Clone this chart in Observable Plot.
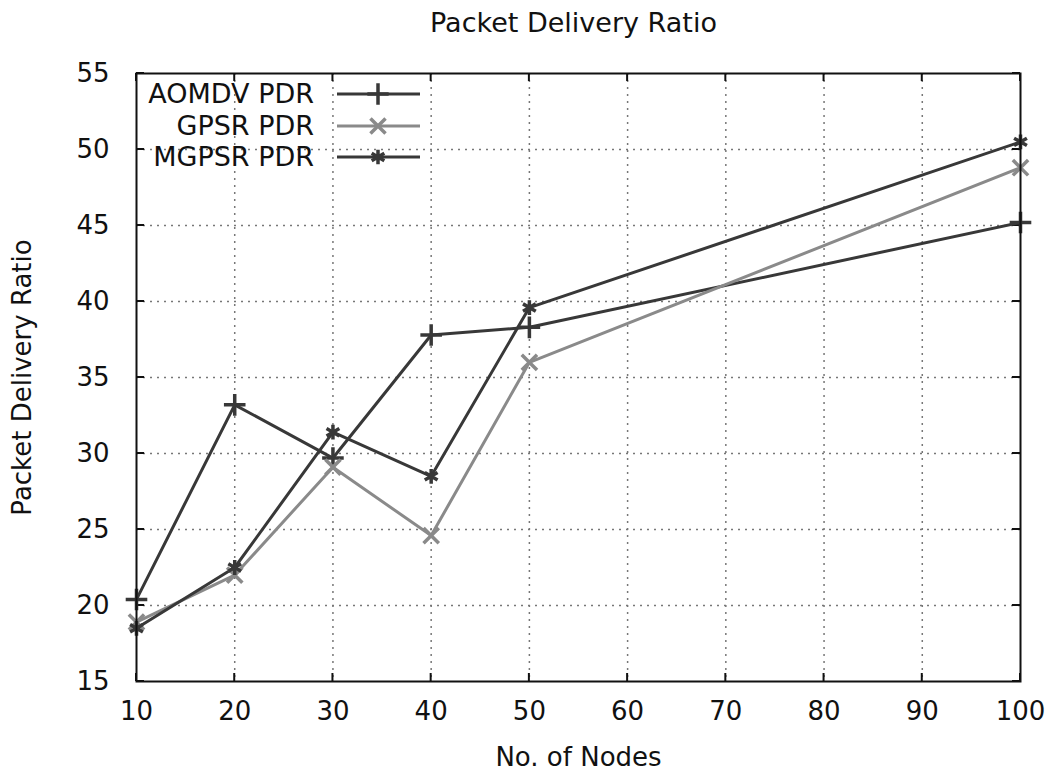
<!DOCTYPE html>
<html>
<head>
<meta charset="utf-8">
<script src="https://cdn.jsdelivr.net/npm/d3@7"></script>
<script src="https://cdn.jsdelivr.net/npm/@observablehq/plot@0.6"></script>
<style>
  html, body { margin: 0; padding: 0; background: #fff; }
  body { width: 1047px; height: 770px; position: relative; overflow: hidden; font-family: "DejaVu Sans", sans-serif; }
  #title { height: 45px; line-height: 45px; text-align: center; font-size: 27px; color: #111; padding-left: 100px; box-sizing: border-box; }
  #legend { position: absolute; left: 0; top: 0; }
  .row { position: absolute; height: 30px; }
  .row span { position: absolute; right: 0; font-size: 27px; color: #111; line-height: 30px; white-space: nowrap; }
</style>
</head>
<body>
<div id="title">Packet Delivery Ratio</div>
<div id="chart"></div>
<div id="legend"></div>
<script>
const nodes = [10, 20, 30, 40, 50, 100];
const aomdv = [20.4, 33.2, 29.7, 37.8, 38.3, 45.2];
const gpsr  = [18.9, 22.0, 29.1, 24.6, 36.0, 48.8];
const mgpsr = [18.5, 22.5, 31.4, 28.5, 39.6, 50.5];
const seriesNames = ["AOMDV PDR", "GPSR PDR", "MGPSR PDR"];
const seriesColors = ["#383838", "#8a8a8a", "#383838"];
const seriesSymbols = ["plus", "times", "asterisk"];
const xTicks = [10, 20, 30, 40, 50, 60, 70, 80, 90, 100];
const yTicks = [15, 20, 25, 30, 35, 40, 45, 50, 55];

const values = [aomdv, gpsr, mgpsr];
const data = [];
values.forEach((vals, i) => vals.forEach((v, j) => data.push({series: seriesNames[i], x: nodes[j], y: v})));

const colorScale = {domain: seriesNames, range: seriesColors};
const symbolScale = {domain: seriesNames, range: seriesSymbols};

// gnuplot-style inward ticks on all four sides, placed through the scales
function inwardTicks(index, scales, values, dims) {
  const g = d3.create("svg:g").attr("stroke", "#111").attr("stroke-width", 2);
  const L = 8;
  const top = dims.marginTop, bottom = dims.height - dims.marginBottom;
  const left = dims.marginLeft, right = dims.width - dims.marginRight;
  for (const t of xTicks) {
    const x = scales.x(t);
    g.append("line").attr("x1", x).attr("x2", x).attr("y1", bottom).attr("y2", bottom - L);
    g.append("line").attr("x1", x).attr("x2", x).attr("y1", top).attr("y2", top + L);
  }
  for (const t of yTicks) {
    const y = scales.y(t);
    g.append("line").attr("y1", y).attr("y2", y).attr("x1", left).attr("x2", left + L);
    g.append("line").attr("y1", y).attr("y2", y).attr("x1", right).attr("x2", right - L);
  }
  return g.node();
}

const plot = Plot.plot({
  width: 1047,
  height: 725,
  marginTop: 28,
  marginBottom: 89,
  marginLeft: 136,
  marginRight: 27,
  style: {fontFamily: "DejaVu Sans, sans-serif", fontSize: "26px", color: "#111", background: "white"},
  x: {domain: [10, 100]},
  y: {domain: [15, 55]},
  color: colorScale,
  symbol: symbolScale,
  marks: [
    Plot.gridX(xTicks.slice(1, -1), {stroke: "#777", strokeOpacity: 1, strokeWidth: 1.5, strokeDasharray: "2,5"}),
    Plot.gridY(yTicks.slice(1, -1), {stroke: "#777", strokeOpacity: 1, strokeWidth: 1.5, strokeDasharray: "2,5"}),
    Plot.axisX(xTicks, {anchor: "bottom", tickSize: 0, tickPadding: 20, label: "No. of Nodes", labelAnchor: "center", labelOffset: 84, labelArrow: "none"}),
    Plot.axisY(yTicks, {anchor: "left", tickSize: 0, tickPadding: 27, label: "Packet Delivery Ratio", labelAnchor: "center", labelOffset: 124, labelArrow: "none"}),
    inwardTicks,
    Plot.line(data, {x: "x", y: "y", z: "series", stroke: "series", strokeWidth: 3}),
    Plot.dot(data, {x: "x", y: "y", symbol: "series", stroke: "series", r: 7, strokeWidth: 3.5}),
    Plot.frame({stroke: "#111", strokeWidth: 2})
  ]
});
document.getElementById("chart").appendChild(plot);

// legend (gnuplot-style key inside the plot, top-left)
const legend = document.getElementById("legend");
const rowTops = [79, 111, 142];
seriesNames.forEach((name, i) => {
  const row = document.createElement("div");
  row.className = "row";
  row.style.left = "0px";
  row.style.width = "314px";
  row.style.top = rowTops[i] + "px";
  const span = document.createElement("span");
  span.textContent = name;
  row.appendChild(span);
  legend.appendChild(row);

  const svg = d3.create("svg").attr("width", 90).attr("height", 30)
    .style("position", "absolute").style("left", "334px").style("top", rowTops[i] + "px");
  svg.append("line").attr("x1", 3).attr("x2", 86).attr("y1", 15).attr("y2", 15)
    .attr("stroke", seriesColors[i]).attr("stroke-width", 3);
  const sym = {plus: d3.symbolPlus, times: d3.symbolTimes, asterisk: d3.symbolAsterisk}[seriesSymbols[i]];
  svg.append("path").attr("d", d3.symbol(sym, 150)()).attr("transform", "translate(44,15)")
    .attr("fill", "none").attr("stroke", seriesColors[i]).attr("stroke-width", 3.5);
  legend.appendChild(svg.node());
});
</script>
</body>
</html>
